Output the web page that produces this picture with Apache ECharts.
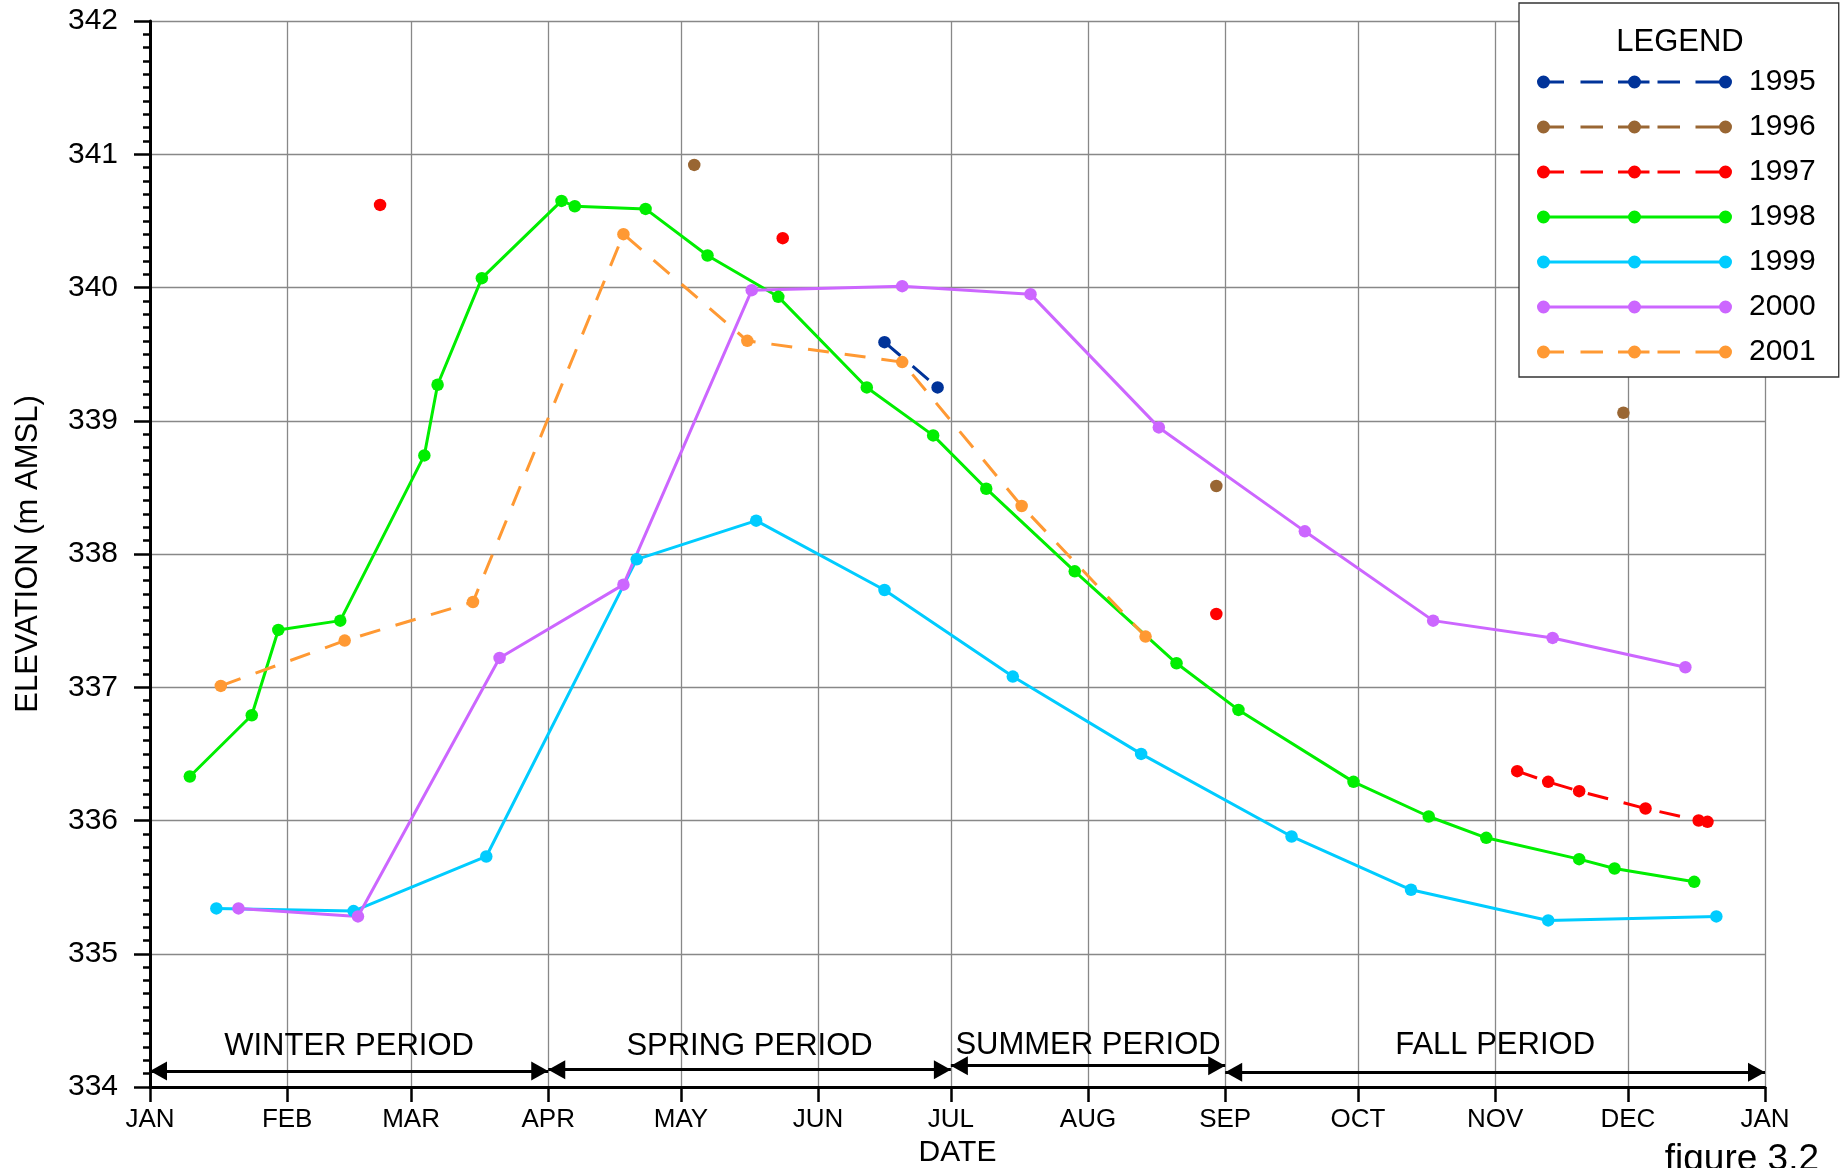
<!DOCTYPE html>
<html>
<head>
<meta charset="utf-8">
<title>Elevation by date</title>
<script src="https://cdn.jsdelivr.net/npm/echarts@6/dist/echarts.min.js"></script>
<style>
  html, body { margin: 0; padding: 0; background: #fff; }
  #chart { width: 1844px; height: 1168px; }
</style>
</head>
<body>
<div id="chart"></div>
<script>
  // every year is drawn on one common calendar (a non-leap reference year)
  const YEAR = 2001;
  const MONTHS = ['JAN', 'FEB', 'MAR', 'APR', 'MAY', 'JUN', 'JUL', 'AUG', 'SEP', 'OCT', 'NOV', 'DEC'];

  const years = ['1995', '1996', '1997', '1998', '1999', '2000', '2001'];

  // readings as [month-day, elevation]; each inner list is a connected run
  const e1995 = [
    [['06-16', 339.59], ['06-28', 339.25]]
  ];
  const e1996 = [
    [['05-04', 340.92]],
    [['08-30', 338.51]],
    [['11-30', 339.06]]
  ];
  const e1997 = [
    [['02-22', 340.62]],
    [['05-24', 340.37]],
    [['08-30', 337.55]],
    [['11-06', 336.37], ['11-13', 336.29], ['11-20', 336.22], ['12-05', 336.09], ['12-17', 336.00], ['12-19', 335.99]]
  ];
  const e1998 = [
    [['01-10', 336.33], ['01-24', 336.79], ['01-30', 337.43], ['02-13', 337.50], ['03-04', 338.74],
     ['03-07', 339.27], ['03-17', 340.07], ['04-04', 340.65], ['04-07', 340.61], ['04-23', 340.59],
     ['05-07', 340.24], ['05-23', 339.93], ['06-12', 339.25], ['06-27', 338.89], ['07-09', 338.49],
     ['07-29', 337.87], ['08-21', 337.18], ['09-04', 336.83], ['09-30', 336.29], ['10-17', 336.03],
     ['10-30', 335.87], ['11-20', 335.71], ['11-28', 335.64], ['12-16', 335.54]]
  ];
  const e1999 = [
    [['01-16', 335.34], ['02-16', 335.32], ['03-18', 335.73], ['04-21', 337.96], ['05-18', 338.25],
     ['06-16', 337.73], ['07-15', 337.08], ['08-13', 336.50], ['09-16', 335.88], ['10-13', 335.48],
     ['11-13', 335.25], ['12-21', 335.28]]
  ];
  const e2000 = [
    [['01-21', 335.34], ['02-17', 335.28], ['03-21', 337.22], ['04-18', 337.77], ['05-17', 339.98],
     ['06-20', 340.01], ['07-19', 339.95], ['08-17', 338.95], ['09-19', 338.17], ['10-18', 337.50],
     ['11-14', 337.37], ['12-14', 337.15]]
  ];
  const e2001 = [
    [['01-17', 337.01], ['02-14', 337.35], ['03-15', 337.64], ['04-18', 340.40], ['05-16', 339.60],
     ['06-20', 339.44], ['07-17', 338.36], ['08-14', 337.38]]
  ];
  const readings = [e1995, e1996, e1997, e1998, e1999, e2000, e2001];

  // seasonal periods along the bottom
  const periodNames = ['WINTER PERIOD', 'SPRING PERIOD', 'SUMMER PERIOD', 'FALL PERIOD'];
  const periodStart = ['01-01', '04-01', '07-01', '09-01'];
  const periodEnd = ['04-01', '07-01', '09-01', '01-01'];
  const periodLevel = [334.12, 334.13, 334.16, 334.11];

  const FONT = '"Liberation Sans", Arial, sans-serif';
  const colors = ['#003399', '#996633', '#ff0000', '#00ee00', '#00ccff', '#cc66ff', '#ff9933'];
  const dashed = [true, true, true, false, false, false, true];
  const labelGap = [9.5, 8, 4.5, 11];   // keeps the period titles on one baseline

  function at(md, nextYear) {
    return (nextYear ? YEAR + 1 : YEAR) + '-' + md;
  }

  function toSeriesData(runs) {
    let out = [];
    runs.forEach((run, i) => {
      if (i > 0) out.push([at(run[0][0]), '-']);   // break the line between runs
      run.forEach(p => out.push([at(p[0]), p[1]]));
    });
    return out;
  }

  // legend icon: a line with a dot at each end and one in the middle
  function circ(cx) {
    return 'M' + (cx - 6.5) + ',6.5 A6.5,6.5 0 1,1 ' + (cx + 6.5) + ',6.5 A6.5,6.5 0 1,1 ' + (cx - 6.5) + ',6.5 Z ';
  }
  function bar(x1, x2) {
    return 'M' + x1 + ',4.9 L' + x2 + ',4.9 L' + x2 + ',8.1 L' + x1 + ',8.1 Z ';
  }
  function legendIcon(isDashed) {
    let p = circ(6.5) + circ(97.5) + circ(188.5);
    if (isDashed) {
      p += bar(6.5, 27) + bar(43.5, 66) + bar(81, 112.5) + bar(120.5, 143) + bar(158.5, 188.5);
    } else {
      p += bar(6.5, 188.5);
    }
    return 'path://' + p;
  }

  const dom = document.getElementById('chart');
  const chart = echarts.init(dom, null, { renderer: 'canvas' });

  const series = years.map((name, i) => ({
    name: name,
    type: 'line',
    data: toSeriesData(readings[i]),
    symbol: 'circle',
    symbolSize: 12.5,
    showSymbol: true,
    connectNulls: false,
    lineStyle: { color: colors[i], width: 3, type: dashed[i] ? [21, 16] : 'solid' },
    itemStyle: { color: colors[i], borderWidth: 0 },
    emphasis: { disabled: true }
  }));

  series.push({
    name: 'periods',
    type: 'line',
    data: [],
    silent: true,
    markLine: {
      silent: true,
      symbol: ['triangle', 'triangle'],
      symbolSize: [19, 17],
      symbolOffset: [[0, 8.5], [0, 8.5]],
      lineStyle: { color: '#000', width: 2.8, type: 'solid' },
      label: {
        show: true,
        position: 'insideMiddleTop',
        formatter: '{b}',
        fontFamily: FONT,
        fontSize: 31,
        color: '#000'
      },
      emphasis: { disabled: true },
      data: periodNames.map((n, i) => [
        { name: n, coord: [at(periodStart[i]), periodLevel[i]], label: { distance: labelGap[i] } },
        { coord: [at(periodEnd[i], i === 3), periodLevel[i]] }
      ])
    }
  });

  const option = {
    animation: false,
    backgroundColor: '#fff',
    textStyle: { fontFamily: FONT },
    grid: { left: 150, right: 79, top: 21, bottom: 81, containLabel: false, outerBoundsMode: 'none' },
    xAxis: {
      type: 'time',
      min: at('01-01'),
      max: at('01-01', true),
      splitNumber: 12,
      name: 'DATE',
      nameLocation: 'middle',
      nameGap: 49,
      nameTextStyle: { fontFamily: FONT, fontSize: 30, color: '#000' },
      axisLine: { onZero: false, lineStyle: { color: '#000', width: 3 } },
      axisTick: { show: true, length: 15, lineStyle: { color: '#000', width: 2.5 } },
      axisLabel: {
        formatter: function (v) { return MONTHS[new Date(v).getMonth()]; },
        fontFamily: FONT,
        fontSize: 26,
        color: '#000',
        margin: 20,
        showMinLabel: true,
        showMaxLabel: true,
        hideOverlap: false
      },
      splitLine: { show: true, lineStyle: { color: '#888', width: 1.3 } }
    },
    yAxis: {
      type: 'value',
      min: 334,
      max: 342,
      interval: 1,
      name: 'ELEVATION (m AMSL)',
      nameLocation: 'middle',
      nameGap: 106,
      nameTextStyle: { fontFamily: FONT, fontSize: 31, color: '#000' },
      axisLine: { show: true, onZero: false, lineStyle: { color: '#000', width: 3 } },
      axisTick: { show: true, length: 16, lineStyle: { color: '#000', width: 2.5 } },
      minorTick: { show: true, splitNumber: 10, length: 7, lineStyle: { color: '#000', width: 2.5 } },
      axisLabel: { fontFamily: FONT, fontSize: 30, color: '#000', margin: 32 },
      splitLine: { show: true, lineStyle: { color: '#888', width: 1.3 } }
    },
    legend: {
      orient: 'vertical',
      left: 1519,
      top: 3,
      padding: [62, 23, 8, 18],
      borderColor: '#333',
      borderWidth: 1.3,
      backgroundColor: '#fff',
      itemWidth: 195,
      itemHeight: 13,
      itemGap: 11,
      selectedMode: false,
      itemStyle: { borderWidth: 0 },
      textStyle: { fontFamily: FONT, fontSize: 30, lineHeight: 34, color: '#000', padding: [0, 0, 0, 12] },
      data: years.map((n, i) => ({ name: n, icon: legendIcon(dashed[i]) }))
    },
    graphic: [
      {
        type: 'text', x: 1680, y: 42.5, z: 100,
        style: { text: 'LEGEND', fontFamily: FONT, fontSize: 31, fill: '#000', align: 'center', verticalAlign: 'middle' }
      },
      {
        type: 'text', x: 1819, y: 1141, z: 100,
        style: { text: 'figure 3.2', fontFamily: FONT, fontSize: 37, fill: '#000', align: 'right', verticalAlign: 'top' }
      }
    ],
    series: series
  };

  chart.setOption(option);
  window.addEventListener('resize', () => chart.resize());
</script>
</body>
</html>
